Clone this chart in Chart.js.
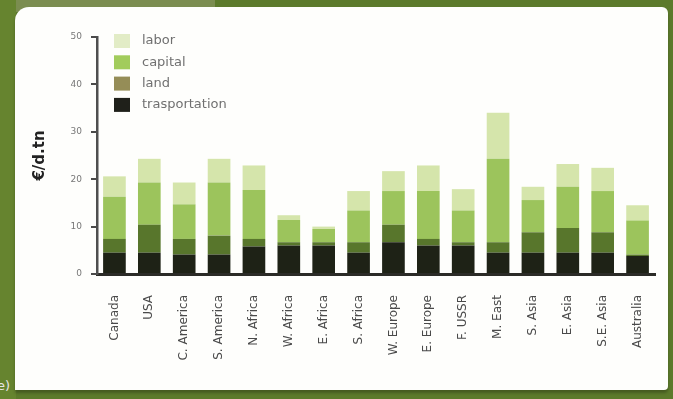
<!DOCTYPE html>
<html>
<head>
<meta charset="utf-8">
<script src="https://cdn.jsdelivr.net/npm/chart.js@4.4.1/dist/chart.umd.min.js"></script>
<style>
  html, body { margin: 0; padding: 0; }
  body { width: 673px; height: 399px; background: #5c7a2b; position: relative; overflow: hidden; }
  #band { position: absolute; left: 0; top: 0; width: 215px; height: 12px; background: #7b8d50; }
  #side { position: absolute; left: 0; top: 0; width: 16px; height: 399px; background: #66842f; }
  #panel { position: absolute; left: 15px; top: 7px; width: 653px; height: 383px; background: #fefefc;
           border-radius: 14px 6px 4px 0; box-shadow: 0 3px 3px rgba(0,0,0,0.25); }
  #note { position: absolute; left: -3px; top: 378px; font: 13px "DejaVu Sans", sans-serif; color: #e6e6e6; }
  #wrap { position: absolute; left: 0; top: 0; width: 673px; height: 399px; }
</style>
</head>
<body>
<div id="band"></div>
<div id="side"></div>
<div id="panel"></div>
<span id="note">e)</span>
<div id="wrap"><canvas id="canvas" width="673" height="399"></canvas></div>
<script>
// regions and cost components (€/d.tn), stacked bottom to top
var regions = ["Canada", "USA", "C. America", "S. America", "N. Africa", "W. Africa", "E. Africa", "S. Africa",
               "W. Europe", "E. Europe", "F. USSR", "M. East", "S. Asia", "E. Asia", "S.E. Asia", "Australia"];
var transportation = [4.5, 4.5, 4.1, 4.1, 5.8, 6.0, 6.0, 4.5, 6.7, 6.0, 6.0, 4.5, 4.5, 4.5, 4.5, 3.8];
var land           = [2.9, 5.9, 3.3, 4.0, 1.6, 0.7, 0.7, 2.2, 3.7, 1.4, 0.7, 2.2, 4.3, 5.2, 4.3, 0.3];
var capital        = [8.9, 8.9, 7.3, 11.2, 10.3, 4.7, 2.8, 6.7, 7.1, 10.1, 6.7, 17.6, 6.8, 8.7, 8.7, 7.2];
var labor          = [4.3, 5.0, 4.6, 5.0, 5.2, 1.0, 0.5, 4.1, 4.2, 5.4, 4.5, 9.7, 2.8, 4.8, 4.9, 3.2];
var yTicks = [0, 10, 20, 30, 40, 50];

// legend drawn inside the plot, top entry first
var legendPlugin = {
  id: "boxLegend",
  afterDraw: function(chart) {
    var ctx = chart.ctx;
    var sets = chart.data.datasets.slice().reverse();
    ctx.save();
    ctx.font = "13px 'DejaVu Sans', sans-serif";
    ctx.textBaseline = "middle";
    sets.forEach(function(ds, i) {
      var top = 34 + i * 21.3;
      ctx.fillStyle = ds.legendColor || ds.backgroundColor;
      ctx.fillRect(114, top, 16, 14);
      ctx.fillStyle = "#707070";
      ctx.fillText(ds.label, 142, top + 7);
    });
    ctx.restore();
  }
};

var context2D = document.getElementById("canvas").getContext("2d");

var myBars = new Chart(context2D, {
  type: "bar",
  data: {
    labels: regions,
    datasets: [
      { label: "trasportation", data: transportation, backgroundColor: "#1e2216", legendColor: "#1f201a" },
      { label: "land", data: land, backgroundColor: "#58762c", legendColor: "#958d57" },
      { label: "capital", data: capital, backgroundColor: "#9cc45c", legendColor: "#a2cc5c" },
      { label: "labor", data: labor, backgroundColor: "#d5e5ab", legendColor: "#e2ecc6" }
    ]
  },
  options: {
    responsive: false,
    animation: false,
    maintainAspectRatio: false,
    layout: { padding: { left: 0, top: 37, right: 18, bottom: 0 } },
    datasets: { bar: { barPercentage: 0.65, categoryPercentage: 1.0, borderWidth: 0 } },
    plugins: { legend: { display: false }, tooltip: { enabled: false } },
    scales: {
      x: {
        stacked: true,
        grid: { display: false },
        border: { display: true, color: "#2b2b27", width: 3 },
        ticks: {
          minRotation: 90, maxRotation: 90, padding: 13, autoSkip: false,
          color: "#4a4a4a", font: { family: "'DejaVu Sans', sans-serif", size: 12 }
        },
        afterFit: function(scale) { scale.height = 125; }
      },
      y: {
        stacked: true,
        min: 0, max: 50,
        afterBuildTicks: function(scale) { scale.ticks = yTicks.map(function(v) { return { value: v }; }); },
        grid: { drawOnChartArea: false, tickLength: 6, color: "#4a4a4a", lineWidth: 2 },
        border: { display: true, color: "#4f4f4f", width: 2.5 },
        ticks: { padding: 9, color: "#777777", font: { family: "'DejaVu Sans', sans-serif", size: 9 } },
        title: {
          display: true, text: "€/d.tn", color: "#222222", padding: { top: 31, bottom: 0 },
          font: { family: "'DejaVu Sans', sans-serif", size: 15, weight: "bold" }
        },
        afterFit: function(scale) { scale.width = 97; }
      }
    }
  },
  plugins: [legendPlugin]
});
</script>
</body>
</html>
